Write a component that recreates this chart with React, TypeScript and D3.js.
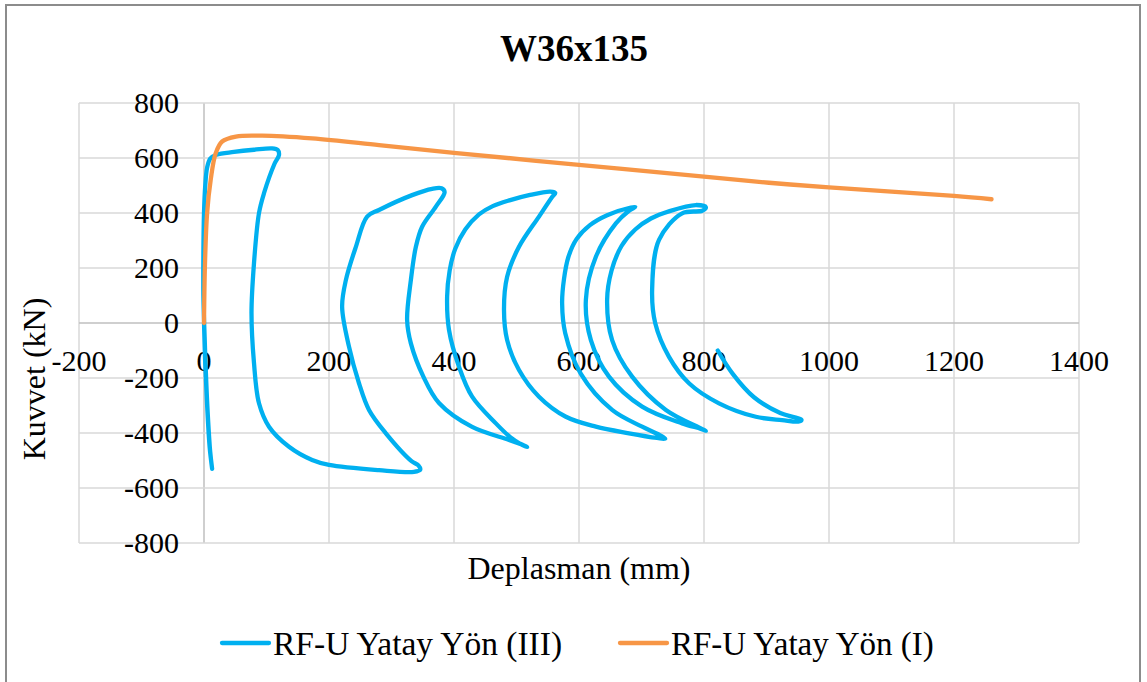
import React from "react";
import * as d3 from "d3";

const title = "W36x135";
const xTicks = [-200, 0, 200, 400, 600, 800, 1000, 1200, 1400];
const yTicks = [-800, -600, -400, -200, 0, 200, 400, 600, 800];
const seriesNames = ["RF-U Yatay Yön (III)", "RF-U Yatay Yön (I)"];
const seriesColors = ["#00b0f0", "#f79646"];

// RF-U Yatay Yön (III) - cyclic
const blueX = [0, 2, 5, 9, 13, 10, 6, 3, 1, -1, -1, 0, 2, 5, 10, 20, 48, 80, 109, 118, 120, 113, 96, 88, 80, 76, 80, 88, 104, 136, 173, 200, 280, 336, 346, 343, 332, 291, 264, 248, 232, 221, 227, 243, 261, 280, 333, 365, 380, 385, 371, 349, 339, 331, 325, 331, 351, 376, 429, 488, 512, 517, 508, 490, 467, 429, 408, 392, 389, 393, 402, 418, 440, 462, 490, 520, 554, 562, 557, 536, 504, 485, 480, 485, 504, 536, 579, 627, 680, 725, 738, 728, 701, 653, 603, 578, 573, 576, 583, 596, 617, 645, 683, 690, 680, 659, 627, 611, 619, 648, 701, 765, 795, 803, 795, 739, 685, 653, 645, 652, 668, 690, 715, 745, 787, 803, 797, 765, 728, 717, 722, 744, 776, 824, 883, 925, 952, 956, 945, 922, 880, 846, 822];
const blueY = [0, -150, -300, -450, -530, -470, -330, -180, -50, 100, 250, 400, 500, 565, 598, 612, 622, 630, 635, 629, 611, 580, 472, 400, 218, 36, -146, -292, -377, -450, -498, -516, -535, -541, -533, -518, -502, -401, -316, -219, -86, 59, 156, 277, 387, 411, 465, 488, 490, 476, 423, 350, 277, 156, 11, -74, -195, -291, -378, -425, -445, -451, -442, -415, -365, -268, -159, -25, 96, 190, 270, 340, 395, 425, 447, 465, 478, 473, 458, 387, 277, 168, 47, -62, -171, -268, -341, -377, -401, -418, -421, -406, -377, -316, -185, -37, 72, 160, 240, 305, 355, 392, 420, 422, 408, 362, 241, 84, -62, -195, -304, -365, -385, -392, -383, -316, -195, -62, 84, 190, 280, 340, 380, 407, 429, 421, 408, 399, 302, 120, -1, -123, -219, -292, -341, -353, -358, -352, -343, -327, -270, -185, -100];

// RF-U Yatay Yön (I) - monotonic
const orangeX = [0, 1.6, 5, 10.7, 18.7, 29, 51, 93, 173, 280, 400, 600, 800, 904, 1000, 1200, 1260];
const orangeY = [0, 218, 400, 520, 617, 660, 678, 681, 671, 647, 619, 575, 532, 510, 493, 462, 450];

const FONT = "'Liberation Serif', 'Times New Roman', serif";

export default function App() {
  const W = 1147, H = 682;
  const x = d3.scaleLinear().domain([-200, 1400]).range([79, 1079]);
  const y = d3.scaleLinear().domain([-800, 800]).range([543, 103]);
  const line = d3
    .line<[number, number]>()
    .x((d) => x(d[0]))
    .y((d) => y(d[1]))
    .curve(d3.curveCatmullRom.alpha(0.5));
  const bluePts = blueX.map((v, i) => [v, blueY[i]] as [number, number]);
  const orangePts = orangeX.map((v, i) => [v, orangeY[i]] as [number, number]);

  return (
    <svg
      width={W}
      height={H}
      style={{ position: "absolute", left: 0, top: 0, background: "#fff" }}
      fontFamily={FONT}
    >
      <rect x={0} y={0} width={W} height={H} fill="#fff" />
      <rect x={6} y={5} width={1134} height={700} fill="none" stroke="#8c8c8c" strokeWidth={2} />
      <text x={574} y={61} textAnchor="middle" fontSize={37} fontWeight="bold" fill="#000">
        {title}
      </text>
      {xTicks.map((t) => (
        <line key={"gx" + t} x1={x(t)} x2={x(t)} y1={y(800)} y2={y(-800)} stroke={t === 0 ? "#bfbfbf" : "#d9d9d9"} strokeWidth={1.5} />
      ))}
      {yTicks.map((t) => (
        <line key={"gy" + t} x1={x(-200)} x2={x(1400)} y1={y(t)} y2={y(t)} stroke={t === 0 ? "#bfbfbf" : "#d9d9d9"} strokeWidth={1.5} />
      ))}
      {xTicks.map((t) => (
        <text key={"tx" + t} x={x(t)} y={371} textAnchor="middle" fontSize={30} fill="#000">
          {t}
        </text>
      ))}
      {yTicks.map((t) => (
        <text key={"ty" + t} x={179} y={y(t) + 10} textAnchor="end" fontSize={30} fill="#000">
          {t}
        </text>
      ))}
      <path d={line(bluePts) || ""} fill="none" stroke={seriesColors[0]} strokeWidth={4.3} strokeLinejoin="round" strokeLinecap="round" />
      <path d={line(orangePts) || ""} fill="none" stroke={seriesColors[1]} strokeWidth={4.3} strokeLinejoin="round" strokeLinecap="round" />
      <text x={579} y={579} textAnchor="middle" fontSize={32} fill="#000">
        Deplasman (mm)
      </text>
      <text transform="translate(45,379) rotate(-90)" textAnchor="middle" fontSize={32} fill="#000">
        Kuvvet (kN)
      </text>
      {seriesNames.map((n, i) => {
        const lx = i === 0 ? 222 : 620;
        return (
          <g key={n}>
            <line x1={lx} x2={lx + 47} y1={643} y2={643} stroke={seriesColors[i]} strokeWidth={4.3} strokeLinecap="round" />
            <text x={lx + 51} y={655} fontSize={i === 0 ? 33.5 : 33} fill="#000">
              {n}
            </text>
          </g>
        );
      })}
    </svg>
  );
}
